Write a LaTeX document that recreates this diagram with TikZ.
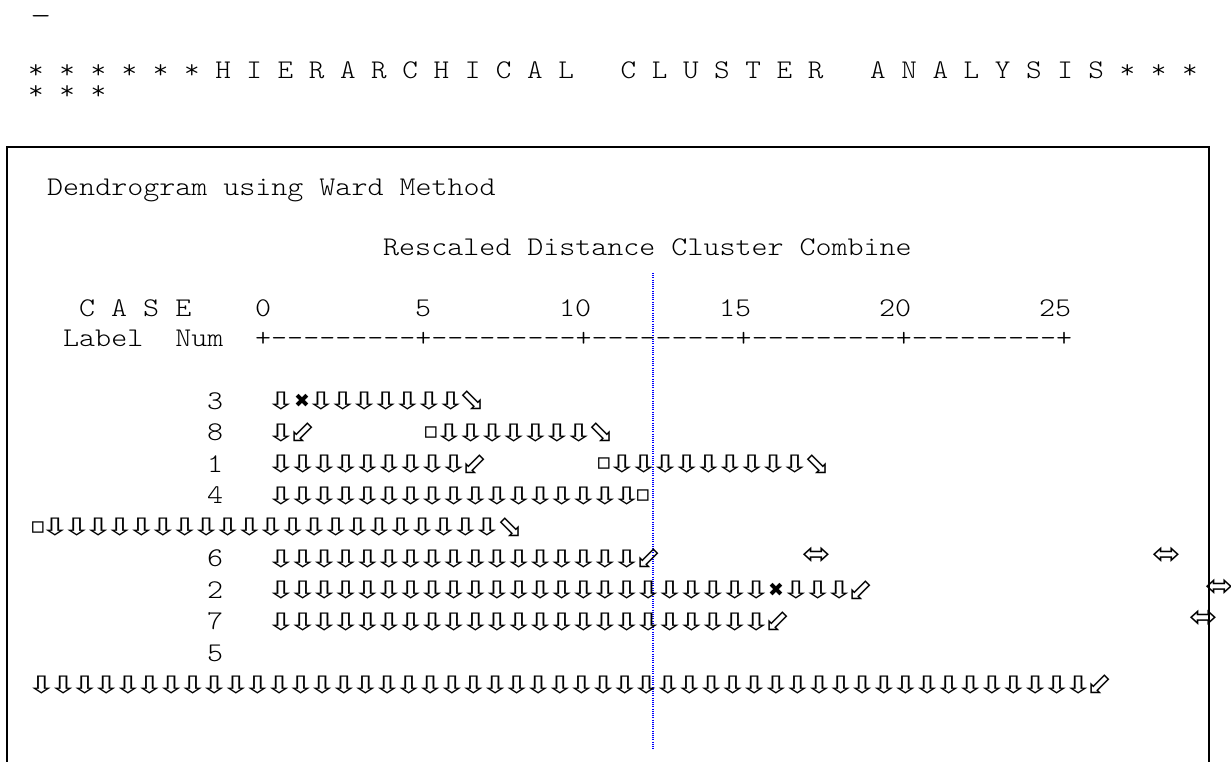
\documentclass[tikz,border=0pt]{standalone}
\usepackage{fontspec}
\newfontfamily\sppfont{lmmonolt10-regular.otf}[FakeStretch=1.13]
\newfontfamily\ttlfont{lmmonolt10-regular.otf}[FakeStretch=1.1]
\newfontfamily\symfont{DejaVu Sans}
\frenchspacing
\newcommand\glyphbox[2]{\makebox[#1][c]{#2}}

\begin{document}
\begin{tikzpicture}[x=1pt, y=-1pt,
    txt/.style={anchor=base west, inner sep=0pt, font=\sppfont\fontsize{27}{27}\selectfont},
    ttl/.style={anchor=base west, inner sep=0pt, font=\ttlfont\fontsize{27}{27}\selectfont},
    dn/.style={inner sep=0pt, font=\symfont\fontsize{24}{24}\selectfont, xscale=1.55, transform shape},
    dg/.style={inner sep=0pt, font=\symfont\fontsize{31}{31}\selectfont},
    cx/.style={inner sep=0pt, font=\symfont\fontsize{19}{19}\selectfont},
    sq/.style={inner sep=0pt, font=\symfont\fontsize{23}{23}\selectfont},
    lr/.style={inner sep=0pt, font=\symfont\fontsize{31}{31}\selectfont, xscale=1.1, transform shape}]
\useasboundingbox (0,0) rectangle (1231,762);
% heading above the box
\node[txt, xscale=1.3, transform shape] (dash) at (30,25) {—};
\node[ttl] (title) at (28,79) {* * * * * * H I E R A R C H I C A L~~~C L U S T E R~~~A N A L Y S I S * * *};
\node[ttl] (title2) at (28,100) {* * *};
% frame and cut line
\draw[line width=1.5pt] (7,762) -- (7,147) -- (1209,147) -- (1209,762);
\draw[blue, line width=1.2pt, dash pattern=on 1pt off 1.2pt] (653,273) -- (653,750);
% header text
\node[txt] (method) at (47,196) {Dendrogram using Ward Method};
\node[txt] (scale) at (383,255) {Rescaled Distance Cluster Combine};
\node[txt] (case) at (79,316) {C A S E};
\node[txt] (label) at (63,346) {Label~~Num};
\foreach \v/\c in {0/0, 5/10, 10/19, 15/29, 20/39, 25/49} {
    \node[txt] (t\v) at ({255+16*\c},316) {\v};
}
% ruler
\node[txt] (ruler) at (255,346) {\foreach \t in {1,...,5}{+\foreach \c in {1,...,9}{-\kern0pt}}+};
% case numbers
\foreach \r/\lab in {0/3, 1/8, 2/1, 3/4, 5/6, 6/2, 7/7, 8/5} {
    \node[txt] (num\lab) at (207,{409+31.55*\r}) {\lab};
}
% runs of down arrows: row/start/count
\foreach \r/\x/\n [count=\q] in {0/281/1, 0/321/7, 1/281/1, 1/449/7, 2/281/9, 2/622/9,
        3/281/17, 4/55/21, 5/281/17, 6/281/23, 6/796/3, 7/281/23, 9/41.5/49} {
    \foreach \k in {1,...,\n} {
        \node[dn] (d\q-\k) at ({\x+21.6*(\k-1)},{401+31.55*\r}) {\glyphbox{12pt}{⇩}};
    }
}
% ends and joints
\foreach \r/\x [count=\q] in {0/472, 1/601, 2/817, 4/510} {
    \node[dg] (se\q) at (\x,{401+31.55*\r}) {\glyphbox{17pt}{⬂}};
}
\foreach \r/\x [count=\q] in {1/302, 2/474, 5/648, 6/860, 7/777, 9/1099} {
    \node[dg] (sw\q) at (\x,{401+31.55*\r}) {\glyphbox{17pt}{⬃}};
}
\foreach \r/\x [count=\q] in {1/431, 2/604, 3/643, 4/38} {
    \node[sq] (sq\q) at (\x,{401+31.55*\r}) {\glyphbox{8pt}{▫}};
}
\foreach \r/\x [count=\q] in {0/302, 6/776} {
    \node[cx] (x\q) at (\x,{401+31.55*\r}) {\glyphbox{12pt}{✖}};
}
\foreach \r/\x [count=\q] in {5/817, 5/1167, 6/1220, 7/1204} {
    \node[lr] (lr\q) at (\x,{398+31.55*\r}) {⬄};
}
\end{tikzpicture}
\end{document}
